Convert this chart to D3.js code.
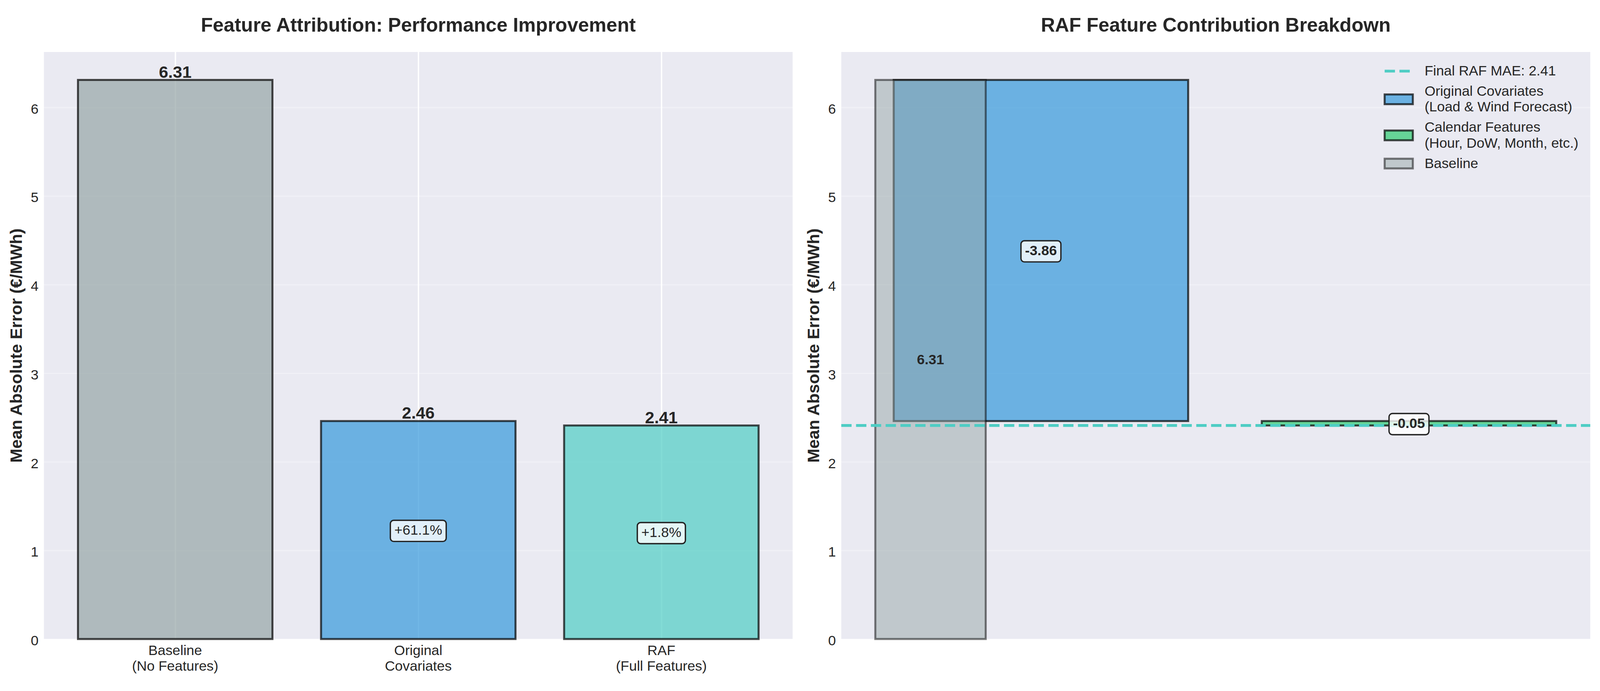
<!DOCTYPE html>
<html>
<head>
<meta charset="utf-8">
<script src="https://cdn.jsdelivr.net/npm/d3@7"></script>
<style>
html, body { margin: 0; padding: 0; width: 100%; height: 100%; overflow: hidden; background: #fff; }
svg { display: block; }
text { font-family: "Liberation Sans", Arial, sans-serif; fill: #262626; }
</style>
</head>
<body>
<svg id="chart"></svg>
<script>
// values
const categories = ['Baseline\n(No Features)', 'Original\nCovariates', 'RAF\n(Full Features)'];
const maeValues = [6.31, 2.46, 2.41];
const improvements = [61.1, 1.8];
const stepNames = ['Original Covariates\n(Load & Wind Forecast)', 'Calendar Features\n(Hour, DoW, Month, etc.)'];
const stepDeltas = [-3.86, -0.05];
const finalMae = 2.41;
const yTicks = [0, 1, 2, 3, 4, 5, 6];

const barColors = ['#95a5a6', '#3498db', '#4ecdc4'];
const stepColors = ['#3498db', '#2ecc71'];
const lineColor = '#4ecdc4';
const bgColor = '#eaeaf2';

// layout is designed on a 4770x1768 canvas and mapped onto the real window
const W = 4770, H = 1768;
const vw = window.innerWidth || W, vh = window.innerHeight || H;
const sx = vw / W, sy = vh / H, sf = Math.min(sx, sy);
const X = v => v * sx, Y = v => v * sy, F = v => v * sf;
const px = v => F(v) + 'px';

const plotTop = Y(133), plotBottom = Y(1635);
const left1 = X(131), right1 = X(2363);
const left2 = X(2508), right2 = X(4741);

const svg = d3.select('#chart').attr('width', vw).attr('height', vh);
svg.append('rect').attr('width', vw).attr('height', vh).attr('fill', '#fff');

const y = d3.scaleLinear().domain([0, d3.max(maeValues) * 1.05]).range([plotBottom, plotTop]);

function panelBase(x0, x1) {
    let g = svg.append('g');
    g.append('rect')
    .attr('x', x0).attr('y', plotTop)
    .attr('width', x1 - x0).attr('height', plotBottom - plotTop)
    .attr('fill', bgColor);

    // horizontal grid
    g.append('g')
    .attr('transform', `translate(${x0},0)`)
    .call(d3.axisLeft(y).tickValues(yTicks).tickSize(-(x1 - x0)).tickFormat(''))
    .call(a => a.select('.domain').remove())
    .selectAll('line')
    .attr('stroke', '#fff').attr('stroke-opacity', 0.3).attr('stroke-width', F(4));
    return g;
}

function yAxis(x0) {
    let ax = svg.append('g')
    .attr('transform', `translate(${x0},0)`)
    .call(d3.axisLeft(y).tickValues(yTicks).tickSize(0).tickPadding(F(16)).tickFormat(d3.format('d')));
    ax.select('.domain').remove();
    ax.selectAll('text').attr('dy', '0.43em').style('font-size', px(41.7));

    svg.append('text')
    .attr('transform', `translate(${x0 - F(66)},${(plotTop + plotBottom) / 2}) rotate(-90)`)
    .attr('text-anchor', 'middle')
    .style('font-size', px(50)).style('font-weight', 'bold')
    .text('Mean Absolute Error (€/MWh)');
}

function title(x0, x1, txt) {
    svg.append('text')
    .attr('x', (x0 + x1) / 2).attr('y', plotTop - F(61))
    .attr('text-anchor', 'middle')
    .style('font-size', px(58.3)).style('font-weight', 'bold')
    .text(txt);
}

function boxLabel(g, cx, cy, txt, bold) {
    let t = g.append('text')
    .attr('x', cx).attr('y', cy + F(14.3))
    .attr('text-anchor', 'middle')
    .style('font-size', px(41.7))
    .style('font-weight', bold ? 'bold' : 'normal')
    .text(txt);
    let w = t.node().getComputedTextLength();
    g.insert('rect', () => t.node())
    .attr('x', cx - w / 2 - F(12)).attr('y', cy - F(29))
    .attr('width', w + F(24)).attr('height', F(63))
    .attr('rx', F(10)).attr('ry', F(10))
    .attr('fill', '#fff').attr('fill-opacity', 0.8)
    .attr('stroke', '#222').attr('stroke-width', F(4));
}

// ---------- left panel ----------
const xL = d3.scaleLinear().domain([-0.54, 2.54]).range([left1, right1]);
const gL = panelBase(left1, right1);

gL.append('g')
.attr('transform', `translate(0,${plotBottom})`)
.call(d3.axisBottom(xL).tickValues(categories.map((c, i) => i)).tickSize(-(plotBottom - plotTop)).tickFormat(''))
.call(a => a.select('.domain').remove())
.selectAll('line')
.attr('stroke', '#fff').attr('stroke-width', F(4));

gL.selectAll('rect.bar')
.data(maeValues)
.enter()
.append('rect')
.attr('class', 'bar')
.attr('x', (d, i) => xL(i - 0.4))
.attr('width', (d, i) => xL(i + 0.4) - xL(i - 0.4))
.attr('y', d => y(d))
.attr('height', d => y(0) - y(d))
.attr('fill', (d, i) => barColors[i]).attr('fill-opacity', 0.7)
.attr('stroke', '#000').attr('stroke-opacity', 0.7).attr('stroke-width', F(6));

gL.selectAll('text.val')
.data(maeValues)
.enter()
.append('text')
.attr('class', 'val')
.attr('x', (d, i) => xL(i))
.attr('y', d => y(d) - F(7))
.attr('text-anchor', 'middle')
.style('font-size', px(50)).style('font-weight', 'bold')
.text(d => d.toFixed(2));

improvements.forEach((v, k) => {
    let i = k + 1;
    boxLabel(gL, xL(i), y(maeValues[i] / 2), '+' + v.toFixed(1) + '%', false);
});

categories.forEach((c, i) => {
    let t = svg.append('text')
    .attr('text-anchor', 'middle')
    .style('font-size', px(41.7));
    c.split('\n').forEach((line, j) => {
        t.append('tspan').attr('x', xL(i)).attr('y', plotBottom + F(48 + j * 46)).text(line);
    });
});

yAxis(left1);
title(left1, right1, 'Feature Attribution: Performance Improvement');

// ---------- right panel (waterfall) ----------
const basePos = 0.7, baseWidth = 0.3, stepWidth = 0.8;
const stepPos = [1, 2];
const xR = d3.scaleLinear().domain([0.4575, 2.4925]).range([left2, right2]);
const gR = panelBase(left2, right2);

const steps = stepDeltas.map((d, i) => ({
    name: stepNames[i],
    delta: d,
    from: maeValues[i],
    to: maeValues[i + 1],
    pos: stepPos[i],
    color: stepColors[i]
}));

gR.selectAll('rect.step')
.data(steps)
.enter()
.append('rect')
.attr('class', 'step')
.attr('x', s => xR(s.pos - stepWidth / 2))
.attr('width', s => xR(s.pos + stepWidth / 2) - xR(s.pos - stepWidth / 2))
.attr('y', s => y(s.from))
.attr('height', s => y(s.to) - y(s.from))
.attr('fill', s => s.color).attr('fill-opacity', 0.7)
.attr('stroke', '#000').attr('stroke-opacity', 0.7).attr('stroke-width', F(6));

gR.append('rect')
.attr('x', xR(basePos - baseWidth / 2))
.attr('width', xR(basePos + baseWidth / 2) - xR(basePos - baseWidth / 2))
.attr('y', y(maeValues[0]))
.attr('height', y(0) - y(maeValues[0]))
.attr('fill', barColors[0]).attr('fill-opacity', 0.5)
.attr('stroke', '#000').attr('stroke-opacity', 0.5).attr('stroke-width', F(6));

gR.append('line')
.attr('x1', left2).attr('x2', right2)
.attr('y1', y(finalMae)).attr('y2', y(finalMae))
.attr('stroke', lineColor).attr('stroke-width', F(8.3))
.attr('stroke-dasharray', `${F(30.8)},${F(13.3)}`);

gR.append('text')
.attr('x', xR(basePos)).attr('y', y(maeValues[0] / 2) + F(14.3))
.attr('text-anchor', 'middle')
.style('font-size', px(41.7)).style('font-weight', 'bold')
.text(maeValues[0].toFixed(2));

steps.forEach(s => {
    boxLabel(gR, xR(s.pos), y((s.from + s.to) / 2), s.delta.toFixed(2), true);
});

// legend, upper right of the waterfall panel
const legendItems = [
    { kind: 'line', color: lineColor, label: 'Final RAF MAE: ' + finalMae.toFixed(2) },
    { kind: 'patch', color: stepColors[0], alpha: 0.7, label: stepNames[0] },
    { kind: 'patch', color: stepColors[1], alpha: 0.7, label: stepNames[1] },
    { kind: 'patch', color: barColors[0], alpha: 0.5, label: 'Baseline' }
];
const lg = svg.append('g');
const handleX = right2 - F(613), textX = right2 - F(494);
let baseline = plotTop + F(70);
legendItems.forEach(item => {
    let lines = item.label.split('\n');
    let first = baseline;
    let last = first + (lines.length - 1) * F(47);
    let cy = (first + last) / 2 - F(13);
    if (item.kind === 'line') {
        lg.append('line')
        .attr('x1', handleX).attr('x2', handleX + F(84))
        .attr('y1', cy).attr('y2', cy)
        .attr('stroke', item.color).attr('stroke-width', F(8.3))
        .attr('stroke-dasharray', `${F(30.8)},${F(13.3)}`);
    } else {
        lg.append('rect')
        .attr('x', handleX).attr('y', cy - F(14.5))
        .attr('width', F(84)).attr('height', F(29))
        .attr('fill', item.color).attr('fill-opacity', item.alpha)
        .attr('stroke', '#000').attr('stroke-opacity', item.alpha).attr('stroke-width', F(6));
    }
    let t = lg.append('text').style('font-size', px(41.7));
    lines.forEach((line, j) => {
        t.append('tspan').attr('x', textX).attr('y', first + j * F(47)).text(line);
    });
    baseline = last + F(60.5);
});

yAxis(left2);
title(left2, right2, 'RAF Feature Contribution Breakdown');
</script>
</body>
</html>
